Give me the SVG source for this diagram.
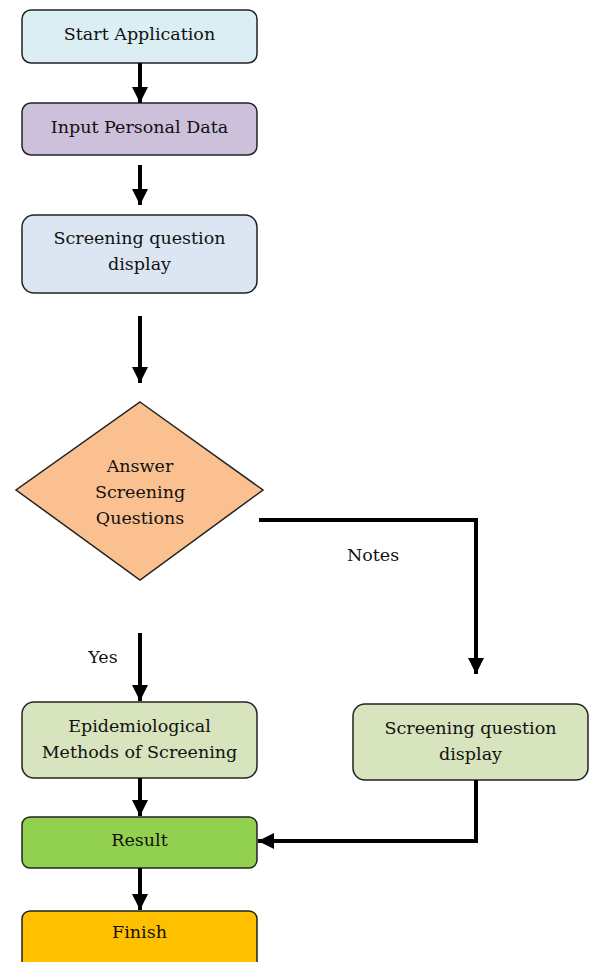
<svg xmlns="http://www.w3.org/2000/svg" width="595" height="962" viewBox="0 0 595 962">
<style>
.box{stroke:#222;stroke-width:1.5}
.t{font-family:"DejaVu Serif","Liberation Serif",serif;font-size:17.5px;fill:#111;text-anchor:middle}
.c{stroke:#000;stroke-width:4;fill:none}
</style>
<defs>
<marker id="ah" viewBox="0 0 10 10" refX="10" refY="5" markerWidth="4" markerHeight="4" markerUnits="strokeWidth" orient="auto">
<path d="M0,0 L10,5 L0,10 z" fill="#000"/>
</marker>
</defs>
<rect width="595" height="962" fill="#fff"/>
<g id="start"><rect class="box" x="22" y="10" width="235" height="53" rx="9" fill="#DAEEF3"/><text class="t" x="139.5" y="40">Start Application</text></g>
<g id="input"><rect class="box" x="22" y="103" width="235" height="52" rx="9" fill="#CCC0DA"/><text class="t" x="139.5" y="133">Input Personal Data</text></g>
<g id="display1"><rect class="box" x="22" y="215" width="235" height="78" rx="12" fill="#DCE6F2"/><text class="t" x="139.5" y="244">Screening question</text><text class="t" x="139.5" y="270">display</text></g>
<g id="decision"><polygon class="box" points="140,402 263,490 140,580 16,490" fill="#FAC090"/><text class="t" x="140" y="472">Answer</text><text class="t" x="140" y="498">Screening</text><text class="t" x="140" y="524">Questions</text></g>
<g id="epi"><rect class="box" x="22" y="702" width="235" height="76" rx="12" fill="#D7E4BD"/><text class="t" x="139.5" y="732">Epidemiological</text><text class="t" x="139.5" y="758">Methods of Screening</text></g>
<g id="display2"><rect class="box" x="353" y="704" width="235" height="76" rx="12" fill="#D7E4BD"/><text class="t" x="470.5" y="734">Screening question</text><text class="t" x="470.5" y="760">display</text></g>
<g id="result"><rect class="box" x="22" y="817" width="235" height="51" rx="8" fill="#92D050"/><text class="t" x="139.5" y="846">Result</text></g>
<g id="finish"><rect class="box" x="22" y="911" width="235" height="60" rx="8" fill="#FFC000"/><text class="t" x="139.5" y="938">Finish</text></g>
<g id="connectors">
<line class="c" x1="140" y1="63" x2="140" y2="103" marker-end="url(#ah)"/>
<line class="c" x1="140" y1="165" x2="140" y2="205" marker-end="url(#ah)"/>
<line class="c" x1="140" y1="316" x2="140" y2="383" marker-end="url(#ah)"/>
<polyline class="c" points="259,520 476,520 476,674" marker-end="url(#ah)"/>
<line class="c" x1="140" y1="633" x2="140" y2="701" marker-end="url(#ah)"/>
<line class="c" x1="140" y1="778" x2="140" y2="816" marker-end="url(#ah)"/>
<polyline class="c" points="476,780 476,841 258,841" marker-end="url(#ah)"/>
<line class="c" x1="140" y1="868" x2="140" y2="910" marker-end="url(#ah)"/>
<text class="t" x="373" y="561">Notes</text>
<text class="t" x="103" y="663">Yes</text>
</g>
</svg>
